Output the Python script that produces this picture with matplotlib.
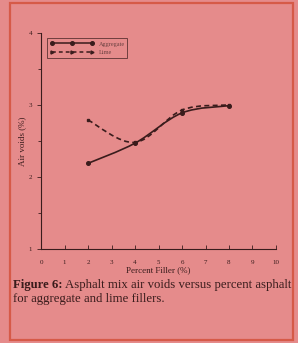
import numpy as np
import matplotlib
matplotlib.use("Agg")
import matplotlib.pyplot as plt
import matplotlib.patches as patches
from matplotlib.path import Path
from matplotlib.lines import Line2D

filler = [2, 4, 6, 8]
aggregate = [2.19, 2.47, 2.89, 2.99]
lime = [2.79, 2.48, 2.93, 3.00]
x_ticks = list(range(0, 11))
y_ticks = [1, 2, 3, 4]

bg = "#e58b8b"
ink = "#3a1c1c"
plt.rcParams["font.family"] = ["Liberation Serif", "DejaVu Serif"]


def smooth_path(x, y):
    # catmull-rom -> cubic bezier, like a spreadsheet "smoothed line"
    pts = np.column_stack([x, y]).astype(float)
    verts = [pts[0]]
    codes = [Path.MOVETO]
    n = len(pts)
    for i in range(n - 1):
        p0 = pts[i - 1] if i > 0 else pts[i]
        p1 = pts[i]
        p2 = pts[i + 1]
        p3 = pts[i + 2] if i + 2 < n else pts[i + 1]
        c1 = p1 + (p2 - p0) / 6.0
        c2 = p2 - (p3 - p1) / 6.0
        verts += [c1, c2, p2]
        codes += [Path.CURVE4] * 3
    return Path(verts, codes)


fig = plt.figure(figsize=(2.98, 3.43), dpi=100, facecolor=bg)
ax = fig.add_axes([0.138, 0.274, 0.788, 0.630])
ax.set_facecolor(bg)

ax.add_patch(patches.PathPatch(smooth_path(filler, aggregate), fill=False,
                               edgecolor=ink, lw=1.2))
ax.add_patch(patches.PathPatch(smooth_path(filler, lime), fill=False,
                               edgecolor=ink, lw=1.2, linestyle=(0, (3, 2))))
ax.plot(filler, aggregate, "o", color=ink, ms=2.6)
ax.plot(filler, lime, "s", color=ink, ms=2.0)

ax.set_xlim(0, 10)
ax.set_ylim(1, 4)
ax.set_xticks(x_ticks)
ax.set_yticks(y_ticks)
ax.set_yticks(np.arange(1.5, 4, 1.0), minor=True)
ax.tick_params(axis="x", direction="in", length=3, width=0.6, labelsize=5,
               colors=ink, pad=8)
ax.tick_params(axis="y", direction="out", length=3, width=0.6, labelsize=5,
               colors=ink)
ax.tick_params(axis="y", which="minor", direction="out", length=2, width=0.6,
               colors=ink)
for s in ["top", "right"]:
    ax.spines[s].set_visible(False)
for s in ["left", "bottom"]:
    ax.spines[s].set_color(ink)
    ax.spines[s].set_linewidth(0.8)

ax.set_xlabel("Percent Filler (%)", fontsize=6.5, color=ink, labelpad=1)
ax.set_ylabel("Air voids (%)", fontsize=6.5, color=ink, labelpad=2)

handles = [
    Line2D([], [], color=ink, lw=1.1, marker="o", ms=2.6),
    Line2D([], [], color=ink, lw=1.1, ls=(0, (2.5, 2)), marker=">", ms=2.2),
]
leg = ax.legend(handles, ["Aggregate", "Lime"], loc="upper left",
                bbox_to_anchor=(0.025, 0.975), fontsize=4.5, numpoints=3,
                fancybox=False, frameon=True, handlelength=7.0,
                handletextpad=0.8, borderpad=0.45, labelspacing=0.45,
                borderaxespad=0)
leg.get_frame().set_edgecolor(ink)
leg.get_frame().set_facecolor(bg)
leg.get_frame().set_linewidth(0.6)
for t in leg.get_texts():
    t.set_color("#6a4040")

cap_size = 9.2
y1 = 1 - 285 / 343
y2 = 1 - 299 / 343
x0 = 13 / 298
bold = fig.text(x0, y1, "Figure 6:", fontsize=cap_size, fontweight="bold",
                color=ink, ha="left", va="center")
fig.canvas.draw()
bb = bold.get_window_extent().transformed(fig.transFigure.inverted())
fig.text(bb.x1 + 0.01, y1, "Asphalt mix air voids versus percent asphalt",
         fontsize=cap_size, color=ink, ha="left", va="center")
fig.text(x0, y2, "for aggregate and lime fillers.", fontsize=cap_size,
         color=ink, ha="left", va="center")

fig.add_artist(patches.Rectangle((0.034, 0.009), 0.949, 0.982,
                                 transform=fig.transFigure, fill=False,
                                 edgecolor="#d65a48", lw=1.6))

fig.savefig("out.png", dpi=100, facecolor=bg)
